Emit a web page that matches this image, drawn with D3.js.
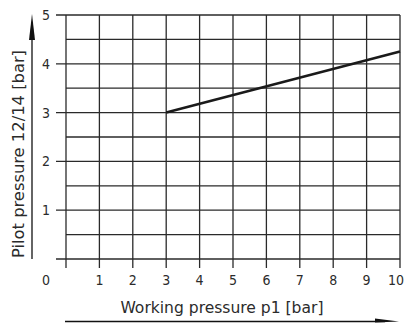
<!DOCTYPE html>
<html>
<head>
<meta charset="utf-8">
<script src="https://cdn.jsdelivr.net/npm/d3@7"></script>
<style>
  html, body { margin: 0; padding: 0; background: #fff; }
  svg { display: block; }
  text { font-family: "DejaVu Sans Condensed", "DejaVu Sans", sans-serif; fill: #2b2b2b; }
</style>
</head>
<body>
<svg id="chart" width="411" height="323"></svg>
<script>
// Pilot pressure needed for a given working pressure
const workingPressure = [3, 10];
const pilotPressure = [3, 4.25];

const xTicks = [0, 1, 2, 3, 4, 5, 6, 7, 8, 9, 10];
const yTicks = [1, 2, 3, 4, 5];
const yGrid = [0, 0.5, 1, 1.5, 2, 2.5, 3, 3.5, 4, 4.5, 5];

const xTitle = "Working pressure p1 [bar]";
const yTitle = "Pilot pressure 12/14 [bar]";

const svg = d3.select("#chart");
const x = d3.scaleLinear().domain([0, 10]).range([66, 400]);
const y = d3.scaleLinear().domain([0, 5]).range([259, 15]);

const gridColor = "#2a2a2a";

// horizontal grid lines every 0.5 bar; whole-bar lines stick out as ticks
svg.append("g").selectAll("line").data(yGrid).join("line")
  .attr("x1", d => Number.isInteger(d) ? x(0) - 10 : x(0))
  .attr("x2", x(10))
  .attr("y1", d => y(d)).attr("y2", d => y(d))
  .attr("stroke", gridColor).attr("stroke-width", 1.3);

// vertical grid lines with ticks below the baseline
svg.append("g").selectAll("line").data(xTicks).join("line")
  .attr("x1", d => x(d)).attr("x2", d => x(d))
  .attr("y1", y(5)).attr("y2", y(0) + 9)
  .attr("stroke", gridColor).attr("stroke-width", 1.3);

// tick labels
svg.append("g").selectAll("text").data(xTicks.slice(1)).join("text")
  .attr("x", d => x(d) - (d === 10 ? 4 : 0)).attr("y", 285)
  .attr("text-anchor", "middle").attr("font-size", 14)
  .text(d => d);
svg.append("text").attr("x", 46).attr("y", 285)
  .attr("text-anchor", "middle").attr("font-size", 14).text(xTicks[0]);
svg.append("g").selectAll("text").data(yTicks).join("text")
  .attr("x", 46).attr("y", d => y(d) + 5)
  .attr("text-anchor", "middle").attr("font-size", 14)
  .text(d => d);

// characteristic curve
svg.append("path")
  .datum(workingPressure.map((w, i) => [w, pilotPressure[i]]))
  .attr("d", d3.line().x(d => x(d[0])).y(d => y(d[1])))
  .attr("fill", "none").attr("stroke", "#1a1a1a").attr("stroke-width", 2.6);

// axis titles
svg.append("text").attr("x", 222).attr("y", 313)
  .attr("text-anchor", "middle").attr("font-size", 16.5)
  .attr("textLength", 203).attr("lengthAdjust", "spacingAndGlyphs")
  .text(xTitle);
svg.append("text")
  .attr("transform", "translate(24,154) rotate(-90)")
  .attr("text-anchor", "middle").attr("font-size", 16.5)
  .attr("textLength", 208).attr("lengthAdjust", "spacingAndGlyphs")
  .text(yTitle);

// direction arrows
svg.append("line").attr("x1", 32).attr("x2", 32).attr("y1", 259).attr("y2", 30)
  .attr("stroke", "#111").attr("stroke-width", 1.3);
svg.append("path").attr("d", "M32,14 L35,40 L29,40 Z").attr("fill", "#111");

svg.append("line").attr("x1", 65).attr("x2", 385).attr("y1", 321.5).attr("y2", 321.5)
  .attr("stroke", "#111").attr("stroke-width", 1.3);
svg.append("path").attr("d", "M399,321.5 L375,318.5 L375,322.5 Z").attr("fill", "#111");
</script>
</body>
</html>
